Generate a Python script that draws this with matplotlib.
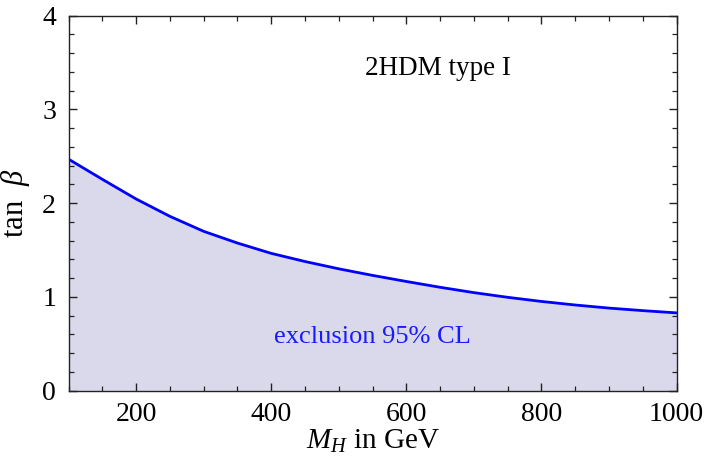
import matplotlib
matplotlib.use("Agg")
import matplotlib.pyplot as plt
from matplotlib.ticker import MultipleLocator

plt.rcParams['font.family'] = ['Liberation Serif', 'DejaVu Serif']
plt.rcParams['mathtext.fontset'] = 'custom'
plt.rcParams['mathtext.rm'] = 'Liberation Serif'
plt.rcParams['mathtext.it'] = 'Liberation Serif:italic'

# data
mass_gev = [100, 150, 200, 250, 300, 350, 400, 450, 500, 550, 600,
            650, 700, 750, 800, 850, 900, 950, 1000]
tan_beta = [2.47, 2.255, 2.045, 1.86, 1.70, 1.575, 1.465, 1.378, 1.30, 1.23, 1.165,
            1.103, 1.046, 0.996, 0.952, 0.914, 0.881, 0.854, 0.83]
xticks = [200, 400, 600, 800, 1000]
yticks = [0, 1, 2, 3, 4]

fig = plt.figure(figsize=(7.07, 4.67), dpi=100)
ax = fig.add_axes([0.0969, 0.1634, 0.957 - 0.0969, 0.9664 - 0.1634])

ax.fill_between(mass_gev, 0, tan_beta, color='#D9D9EB', linewidth=0)
ax.plot(mass_gev, tan_beta, color='#0000FF', lw=2.0, solid_joinstyle='round')

ax.set_xlim(100, 1000)
ax.set_ylim(0, 4)
ax.set_xticks(xticks)
ax.set_yticks(yticks)
ax.xaxis.set_minor_locator(MultipleLocator(50))
ax.yaxis.set_minor_locator(MultipleLocator(0.2))
ax.tick_params(which='both', direction='in', top=True, right=True, labelsize=20, pad=8, color='#222222')
ax.tick_params(which='major', length=6, width=1)
ax.tick_params(which='minor', length=3.5, width=0.9)
ax.tick_params(axis='y', pad=9)
for s in ax.spines.values():
    s.set_linewidth(1.0)
    s.set_color('#222222')

ax.set_xlabel(r'$M_H$ in GeV', fontsize=21, labelpad=1)
ax.set_ylabel(r'tan  $\beta$', fontsize=22, labelpad=7)

ax.text(647, 3.44, '2HDM type I', fontsize=19.5, ha='center', va='center')
ax.text(550, 0.575, 'exclusion 95% CL', fontsize=19, ha='center', va='center', color='#1a1aff')

fig.savefig('out.png', dpi=100)
